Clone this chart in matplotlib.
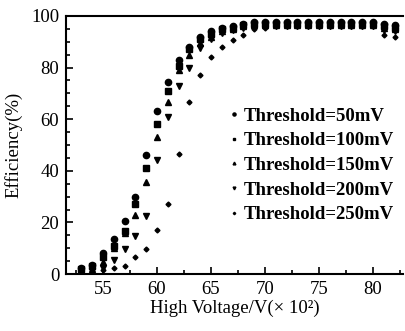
import numpy as np
import matplotlib.pyplot as plt
from matplotlib.ticker import MultipleLocator

plt.rcParams['font.family'] = ['Liberation Serif', 'DejaVu Serif']

voltage = np.arange(53, 83)

eff_50 = [2.5, 3.5, 8, 13.5, 20.5, 30, 46, 63, 74.5, 83, 88, 92, 94, 95.5, 96,
          97, 97.5, 97.5, 97.5, 97.5, 97.5, 97.5, 97.5, 97.5, 97.5, 97.5, 97.5, 97.5, 97, 96.5]
eff_100 = [2, 3, 6.5, 11, 16.5, 27, 41, 58, 71, 80.5, 87, 91, 93, 95, 95.5,
           96.5, 97, 97, 97, 97, 97, 97, 97, 97, 97, 97, 97, 97, 96, 95.5]
eff_150 = [1, 2, 4.5, 10, 16, 23, 35.5, 53, 66.5, 79, 85, 89.5, 92, 94, 95,
           96, 96.5, 96.5, 96.5, 96.5, 96.5, 96.5, 96.5, 96.5, 96.5, 96.5, 96.5, 96.5, 95.5, 95]
eff_200 = [0.5, 1, 2.5, 5.5, 9.7, 14.7, 22.6, 44, 61, 73, 80, 87.5, 91, 93.5, 94.5,
           95.5, 96, 96, 96, 96, 96, 96, 96, 96, 96, 96, 96, 96, 94.5, 94]
eff_250 = [0.2, 0.5, 1.5, 2.4, 3.2, 6.6, 9.7, 17, 27, 46.5, 66.7, 77, 84, 88, 90.6,
           92.5, 95, 95.5, 96, 96, 96, 96, 96, 96, 96, 96, 96, 96, 92.5, 92]

labels = ["Threshold=50mV", "Threshold=100mV", "Threshold=150mV",
          "Threshold=200mV", "Threshold=250mV"]

fig = plt.figure(figsize=(4.06, 3.31), dpi=100)
ax = fig.add_axes([0.163, 0.172, 0.83, 0.78])

ax.plot(voltage, eff_50, 'o', color='black', ms=4.5, label=labels[0])
ax.plot(voltage, eff_100, 's', color='black', ms=4, label=labels[1])
ax.plot(voltage, eff_150, '^', color='black', ms=4, label=labels[2])
ax.plot(voltage, eff_200, 'v', color='black', ms=4, label=labels[3])
ax.plot(voltage, eff_250, 'D', color='black', ms=2.5, label=labels[4])

ax.set_xlim(51.6, 82.8)
ax.set_ylim(0, 100)
ax.xaxis.set_major_locator(MultipleLocator(5))
ax.xaxis.set_minor_locator(MultipleLocator(2.5))
ax.yaxis.set_major_locator(MultipleLocator(20))
ax.yaxis.set_minor_locator(MultipleLocator(5))
ax.tick_params(which='both', direction='in', top=False, right=False, labelsize=13.5, width=1.2)
ax.tick_params(which='major', length=5, pad=5)
ax.tick_params(which='minor', length=3)
ax.spines['right'].set_visible(False)
for s in ['left', 'bottom', 'top']:
    ax.spines[s].set_linewidth(1.5)

ax.set_xlabel("High Voltage/V(\u00d7 10\u00b2)", fontsize=13.5, labelpad=1)
ax.set_ylabel("Efficiency(%)", fontsize=13.5, labelpad=6)

ax.legend(loc='upper left', bbox_to_anchor=(0.48, 0.645), frameon=False,
          markerscale=0.5, handlelength=0.6, handletextpad=0.25, borderpad=0,
          labelspacing=0.4, borderaxespad=0, prop={'size': 13.5, 'weight': 'bold'})

fig.savefig('out.png', dpi=100)
